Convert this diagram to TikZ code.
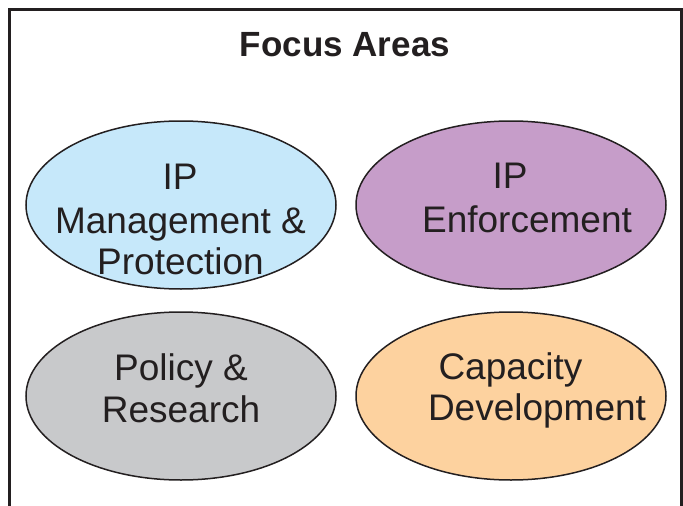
\documentclass[tikz,border=0pt]{standalone}
\usepackage{fontspec}
\setmainfont{Liberation Sans}
\usetikzlibrary{shapes.geometric}
\definecolor{ink}{HTML}{231F20}
\definecolor{fblue}{HTML}{C6E8FA}
\definecolor{fpurple}{HTML}{C69DC9}
\definecolor{fgray}{HTML}{C8C9CB}
\definecolor{forange}{HTML}{FDD29F}
\tikzset{
  area/.style={ellipse, draw=ink, line width=1.5pt, minimum width=310pt, minimum height=168pt, inner sep=0pt},
  lbl/.style={anchor=base, inner sep=0pt, text=ink, font=\fontsize{37}{44}\selectfont},
  ttl/.style={anchor=base, inner sep=0pt, text=ink, font=\fontsize{35}{42}\selectfont\bfseries}
}
\begin{document}
\begin{tikzpicture}[x=1pt,y=-1pt]
\useasboundingbox (0,0) rectangle (683,506);
\fill[white] (0,0) rectangle (683,506);
\draw[ink, line width=3pt] (9.7,510) -- (9.7,9.3) -- (681.5,9.3) -- (681.5,510);
\node[ttl] (title) at (345,56) {Focus Areas};
\node[area, fill=fblue] (mgmt) at (181,205) {};
\node[area, fill=fpurple] (enf) at (511,205) {};
\node[area, fill=fgray] (pol) at (181,396) {};
\node[area, fill=forange] (cap) at (511,396) {};
\node[lbl] (m1) at (180,189) {IP};
\node[lbl] (m2) at (180.5,233) {Management \&};
\node[lbl] (m3) at (180.5,274) {Protection};
\node[lbl] (e1) at (510,188) {IP};
\node[lbl] (e2) at (527,232) {Enforcement};
\node[lbl] (p1) at (181,380) {Policy \&};
\node[lbl] (p2) at (181,422) {Research};
\node[lbl] (c1) at (510.5,379) {Capacity};
\node[lbl] (c2) at (537,420) {Development};
\end{tikzpicture}
\end{document}
